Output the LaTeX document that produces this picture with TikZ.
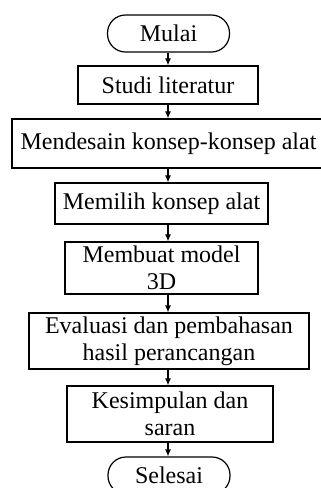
\documentclass[tikz,border=0pt]{standalone}
\usepackage{fontspec}
\setmainfont{Liberation Serif}
\usetikzlibrary{arrows.meta}
\begin{document}
\begin{tikzpicture}[x=0.5pt,y=-0.5pt,
  every node/.style={font=\fontsize{12}{13.5}\selectfont,inner sep=0pt,align=center},
  stepbox/.style={draw,line width=0.6pt,rectangle},
  termbox/.style={draw,line width=0.6pt,rectangle,rounded corners=9pt,minimum width=61pt,minimum height=18.5pt},
  arr/.style={line width=0.6pt,-{Latex[length=3.5pt,width=3pt]}}]
\fill[white] (0,0) rectangle (321,488);
\useasboundingbox (0,0) rectangle (321,488);
\coordinate (axis) at (168,0);
\node[termbox] (mulai) at (168.5,33.5) {Mulai};
\node[stepbox,minimum width=90pt,minimum height=19pt] (studi) at (168,85) {Studi literatur};
\node[stepbox,minimum width=156.5pt,minimum height=24.5pt] (desain) at (168.5,143.5) {Mendesain konsep-konsep alat};
\node[stepbox,minimum width=106.5pt,minimum height=20.5pt] (pilih) at (161.5,203.5) {Memilih konsep alat};
\node[stepbox,minimum width=96.5pt,minimum height=26pt] (model) at (161.5,268) {Membuat model\\3D};
\node[stepbox,minimum width=140pt,minimum height=28pt] (eval) at (169,341) {Evaluasi dan pembahasan\\hasil perancangan};
\node[stepbox,minimum width=103pt,minimum height=28pt] (simpul) at (170,414) {Kesimpulan dan\\saran};
\node[termbox] (selesai) at (169,475.5) {Selesai};
\draw[arr] (mulai.south -| axis) -- (studi.north -| axis);
\draw[arr] (studi.south -| axis) -- (desain.north -| axis);
\draw[arr] (desain.south -| axis) -- (pilih.north -| axis);
\draw[arr] (pilih.south -| axis) -- (model.north -| axis);
\draw[arr] (model.south -| axis) -- (eval.north -| axis);
\draw[arr] (eval.south -| axis) -- (simpul.north -| axis);
\draw[arr] (simpul.south -| axis) -- (selesai.north -| axis);
\end{tikzpicture}
\end{document}
